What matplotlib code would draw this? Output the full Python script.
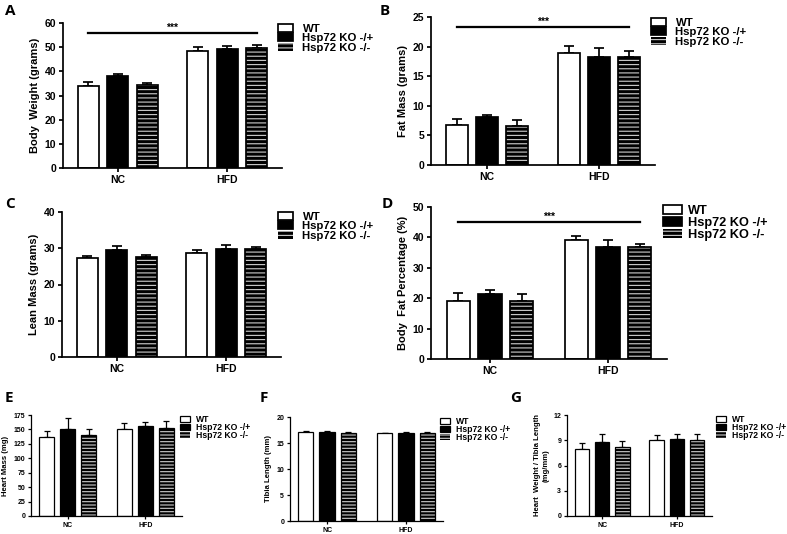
import matplotlib
matplotlib.use("Agg")
import matplotlib.pyplot as plt
import numpy as np

plt.rcParams['font.family'] = ['Liberation Sans', 'DejaVu Sans']
plt.rcParams['font.weight'] = 'bold'
plt.rcParams['axes.labelweight'] = 'bold'
plt.rcParams['hatch.linewidth'] = 0.85

groups = ['NC', 'HFD']
series = ['WT', 'Hsp72 KO -/+', 'Hsp72 KO -/-']

# Panel A: body weight (grams) -- rows: WT, KO -/+, KO -/- ; cols: NC, HFD
body_weight = [[34.0, 48.5], [38.0, 49.2], [34.3, 49.7]]
body_weight_err = [[1.5, 1.5], [0.8, 1.3], [1.0, 1.3]]
# Panel B: fat mass (grams)
fat_mass = [[6.7, 19.0], [8.1, 18.2], [6.6, 18.3]]
fat_mass_err = [[1.1, 1.1], [0.4, 1.5], [1.0, 0.9]]
# Panel C: lean mass (grams)
lean_mass = [[27.3, 28.8], [29.6, 29.8], [27.5, 29.9]]
lean_mass_err = [[0.7, 0.6], [0.9, 1.0], [0.7, 0.5]]
# Panel D: body fat percentage
fat_pct = [[19.0, 39.0], [21.4, 36.9], [19.0, 36.8]]
fat_pct_err = [[2.7, 1.3], [1.2, 2.4], [2.3, 1.1]]
# Panel E: heart mass (mg)
heart_mass = [[137, 151], [151, 156], [140, 152]]
heart_mass_err = [[10, 10], [18, 7], [11, 13]]
# Panel F: tibia length (mm)
tibia = [[17.2, 16.9], [17.2, 17.0], [17.0, 16.9]]
tibia_err = [[0.1, 0.05], [0.1, 0.1], [0.05, 0.15]]
# Panel G: heart weight / tibia length (mg/mm)
hw_tl = [[8.0, 9.0], [8.8, 9.2], [8.2, 9.0]]
hw_tl_err = [[0.7, 0.6], [1.0, 0.5], [0.7, 0.7]]

W, H = 787, 534
fig = plt.figure(figsize=(W / 100, H / 100), dpi=100)


def px_axes(l, t, r, b):
    return fig.add_axes([l / W, 1 - b / H, (r - l) / W, (b - t) / H])


offsets = [-0.27, 0.0, 0.27]


def panel(rect, means, errs, ylim, yticks, ylabel, xlim, tick_fs, label_fs,
          leg_fs, leg_pos, leg_hl, leg_hh, leg_pad, leg_sp, lw, capsize,
          hatch, sig=None):
    ax = px_axes(*rect)
    x = np.arange(len(groups))
    width = 0.195
    handles = []
    for i, (m, e) in enumerate(zip(means, errs)):
        xi = x + offsets[i]
        m = np.asarray(m, float)
        e = np.asarray(e, float)
        ax.errorbar(xi, m, yerr=[np.zeros_like(e), e], fmt='none', ecolor='black',
                    elinewidth=lw, capsize=capsize, capthick=lw, zorder=1)
        if i == 0:
            b = ax.bar(xi, m, width, color='white', edgecolor='black', linewidth=lw, zorder=2)
            handles.append(b)
        elif i == 1:
            b = ax.bar(xi, m, width, color='black', edgecolor='black', linewidth=lw, zorder=2)
            handles.append(b)
        else:
            b = ax.bar(xi, m, width, color='black', edgecolor='#c4c4c4', hatch=hatch,
                       linewidth=0, zorder=2)
            ax.bar(xi, m, width, fill=False, edgecolor='black', linewidth=lw, zorder=3)
            handles.append(b)
    ax.set_xlim(*xlim)
    ax.set_ylim(*ylim)
    ax.set_yticks(yticks)
    ax.set_xticks(x)
    ax.set_xticklabels(groups, fontsize=tick_fs, fontweight='bold')
    ax.set_yticklabels([str(t) for t in yticks], fontsize=tick_fs, fontweight='bold')
    ax.set_ylabel(ylabel, fontsize=label_fs, fontweight='bold', labelpad=3)
    for s in ['top', 'right']:
        ax.spines[s].set_visible(False)
    for s in ['left', 'bottom']:
        ax.spines[s].set_linewidth(lw)
    ax.tick_params(width=lw, length=3 if tick_fs > 6 else 2.2, pad=2)
    ax.legend(handles, series, loc='upper left',
              bbox_to_anchor=(leg_pos[0] / W, 1 - leg_pos[1] / H),
              bbox_transform=fig.transFigure, frameon=False,
              prop={'size': leg_fs, 'weight': 'bold'}, borderpad=0,
              borderaxespad=0, handlelength=leg_hl, handleheight=leg_hh,
              handletextpad=leg_pad, labelspacing=leg_sp)
    if sig is not None:
        x0 = x[0] + offsets[0]
        x1 = x[-1] + offsets[-1]
        ax.plot([x0, x1], [sig, sig], color='black', lw=lw * 1.3, clip_on=False)
        ax.text((x0 + x1) / 2, sig, '***', ha='center', va='bottom',
                fontsize=tick_fs, fontweight='bold')
    return ax


big = dict(xlim=(-0.5, 1.5), tick_fs=7.5, label_fs=8, leg_fs=8.2, leg_hl=1.35,
           leg_hh=0.7, leg_pad=0.8, leg_sp=-0.05, lw=1.25, capsize=3.5, hatch='----')
small = dict(xlim=(-0.47, 1.47), tick_fs=5, label_fs=5.6, leg_fs=6.2, leg_hl=1.2,
             leg_hh=0.7, leg_pad=0.7, leg_sp=-0.12, lw=0.9, capsize=2.5, hatch='-----')

panel((63, 23, 282, 168), body_weight, body_weight_err, (0, 60), list(range(0, 61, 10)),
      'Body  Weight (grams)', leg_pos=(278, 24), sig=56, **big)
panel((431, 17, 655, 165), fat_mass, fat_mass_err, (0, 25), list(range(0, 26, 5)),
      'Fat Mass (grams)', leg_pos=(651, 18), sig=23.3, **big)
panel((62, 212, 281, 357), lean_mass, lean_mass_err, (0, 40), list(range(0, 41, 10)),
      'Lean Mass (grams)', leg_pos=(278, 212), **big)
bigD = dict(big)
bigD.update(leg_fs=9.2, leg_hl=1.45, leg_hh=0.7, leg_pad=0.5, leg_sp=0.0)
panel((431, 207, 667, 359), fat_pct, fat_pct_err, (0, 50), list(range(0, 51, 10)),
      'Body  Fat Percentage (%)', leg_pos=(663, 205), sig=45.1, **bigD)
panel((31, 415, 182, 516), heart_mass, heart_mass_err, (0, 175), list(range(0, 176, 25)),
      'Heart Mass (mg)', leg_pos=(180, 415), **small)
panel((290, 417, 443, 521), tibia, tibia_err, (0, 20), list(range(0, 21, 5)),
      'Tibia Length (mm)', leg_pos=(440, 417), **small)
panel((567, 415, 712, 516), hw_tl, hw_tl_err, (0, 12), list(range(0, 13, 3)),
      'Heart  Weight / Tibia Length\n(mg/mm)', leg_pos=(716, 415), **small)

letters = [('A', 5, 4), ('B', 380, 4), ('C', 5, 197), ('D', 382, 197),
           ('E', 5, 391), ('F', 260, 391), ('G', 510, 391)]
for s, lx, ly in letters:
    fig.text(lx / W, 1 - ly / H, s, fontsize=11, fontweight='bold',
             family=['Open Sans', 'DejaVu Sans'], ha='left', va='top')

fig.savefig('out.png', dpi=100)
